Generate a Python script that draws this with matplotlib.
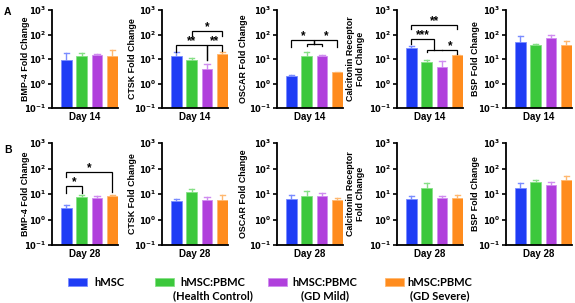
import math
import matplotlib
matplotlib.use("Agg")
import matplotlib.pyplot as plt
from matplotlib.patches import Rectangle
from matplotlib.ticker import FixedLocator, FuncFormatter, NullLocator

plt.rcParams['font.family'] = ['Liberation Sans', 'DejaVu Sans']
plt.rcParams['font.weight'] = 'bold'

# groups and colours
groups = ['hMSC', 'hMSC:PBMC\n(Health Control)', 'hMSC:PBMC\n(GD Mild)', 'hMSC:PBMC\n(GD Severe)']
colors = ['#1f3cf5', '#3cc83c', '#b040dc', '#ff8c1e']
err_colors = ['#7a8cff', '#86e086', '#d08cf0', '#ffb870']

genes = ['BMP-4', 'CTSK', 'OSCAR', 'Calcitonin Receptor', 'BSP']
ylabels = ['BMP-4 Fold Change', 'CTSK Fold Change', 'OSCAR Fold Change',
           'Calcitonin Receptor\nFold Change', 'BSP Fold Change']
days = ['Day 14', 'Day 28']

# mean fold change (bar tops) and mean + error (cap tops)
day14_mean = [
    [9.4, 12.8, 14.5, 12.8],
    [13.5, 8.8, 4.0, 16.7],
    [2.1, 13.5, 13.5, 2.9],
    [28.5, 7.4, 4.6, 14.3],
    [49, 38, 70, 38],
]
day14_top = [
    [16.9, 17.4, 16.0, 23.6],
    [18.9, 11.3, 6.2, 19.5],
    [2.2, 19.5, 14.4, 3.05],
    [35, 9.0, 8.3, 15.0],
    [86, 42, 100, 55],
]
day28_mean = [
    [2.9, 7.9, 7.0, 8.1],
    [5.2, 12.0, 6.0, 5.7],
    [6.4, 8.1, 8.6, 5.8],
    [6.4, 17.6, 7.2, 7.2],
    [17, 29.4, 21.8, 36],
]
day28_top = [
    [3.6, 9.4, 8.5, 9.1],
    [6.6, 16.0, 7.6, 9.4],
    [9.4, 12.7, 10.6, 6.8],
    [8.6, 27.6, 8.6, 9.1],
    [26.8, 36, 29.4, 48.7],
]

# significance brackets: (row, panel, x1, x2, y_line, y_leg1, y_leg2, label)
brackets = [
    (0, 1, 0, 2, 38.5, 19.5, 9.0, '**'),
    (0, 1, 2, 3, 38.5, 9.0, 22, '**'),
    (0, 1, 1, 3, 135, 90, 90, '*'),
    (0, 2, 0, 1.5, 58, 30, 41, '*'),
    (0, 2, 1.5, 3, 58, 41, 30, '*'),
    (0, 2, 1, 2, 41, 33, 33, ''),
    (0, 3, 0, 3, 245, 160, 160, '**'),
    (0, 3, 0, 1.5, 68, 41, 22.5, '***'),
    (0, 3, 1, 2, 22.5, 19, 22.5, ''),
    (0, 3, 2, 3, 22.5, 22.5, 16.5, '*'),
    (1, 0, 0, 1, 20, 10.5, 10.5, '*'),
    (1, 0, 0, 3, 74, 45, 12, '*'),
]

W, H = 575, 303
fig = plt.figure(figsize=(W / 100, H / 100), dpi=100)

lefts = [52, 162, 277, 397, 506]
ylab_off = [-22, -25, -29, -32, -26]  # px from spine to right edge of y label
ax_w = 66
rows = [(10, 98), (143, 102)]  # (top px, height px)


def fmt(v, pos):
    e = int(round(math.log10(v)))
    return r'$\mathbf{10^{%d}}$' % e


axes = {}
for r, (top, h) in enumerate(rows):
    means = day14_mean if r == 0 else day28_mean
    tops = day14_top if r == 0 else day28_top
    for p in range(5):
        ax = fig.add_axes([lefts[p] / W, (H - top - h) / H, ax_w / W, h / H])
        axes[(r, p)] = ax
        x = list(range(4))
        ax.bar(x, means[p], width=0.68, color=colors, edgecolor=err_colors,
               linewidth=0.6, zorder=2)
        for i in range(4):
            ax.plot([i, i], [means[p][i], tops[p][i]], color=err_colors[i], lw=1.0, zorder=1)
            ax.plot([i - 0.18, i + 0.18], [tops[p][i], tops[p][i]], color=err_colors[i], lw=1.0, zorder=1)
        ax.set_yscale('log')
        ax.set_ylim(0.1, 1000)
        ax.set_xlim(-0.93, 3.36)
        ax.yaxis.set_major_locator(FixedLocator([0.1, 1, 10, 100, 1000]))
        ax.yaxis.set_minor_locator(NullLocator())
        ax.yaxis.set_major_formatter(FuncFormatter(fmt))
        ax.set_xticks([])
        ax.spines['top'].set_visible(False)
        ax.spines['right'].set_visible(False)
        ax.spines['left'].set_linewidth(1.3)
        ax.spines['bottom'].set_linewidth(1.3)
        ax.tick_params(axis='y', length=3, width=1.2, labelsize=6, pad=1)
        ax.set_xlabel(days[r], fontsize=7, fontweight='bold', labelpad=3)
        ax.set_ylabel(ylabels[p], fontsize=6.4, fontweight='bold',
                      linespacing=1.1)
        ax.yaxis.set_label_coords(ylab_off[p] / ax_w, 0.5)

for r, p, x1, x2, yl, y1, y2, lab in brackets:
    ax = axes[(r, p)]
    ax.plot([x1, x1, x2, x2], [y1, yl, yl, y2], color='black', lw=0.9, zorder=3,
            solid_joinstyle='miter')
    if lab:
        ax.annotate(lab, ((x1 + x2) / 2, yl), xytext=(0, -1.5),
                    textcoords='offset points', ha='center', va='bottom',
                    fontsize=8.5, fontweight='bold')

fig.text(4 / W, 1 - 15 / H, 'A', fontsize=7.5, fontweight='bold')
fig.text(4 / W, 1 - 153 / H, 'B', fontsize=7.5, fontweight='bold')

# legend drawn below the panels
leg_x = [68, 155, 268, 385]
text_cx = [112, 213, 325, 440]
for i in range(4):
    fig.add_artist(Rectangle((leg_x[i] / W, 1 - 286 / H), 19 / W, 8 / H,
                             transform=fig.transFigure, facecolor=colors[i],
                             edgecolor=err_colors[i], lw=0.6))
    lines = groups[i].split('\n')
    if len(lines) == 1:
        fig.text((leg_x[i] + 26) / W, 1 - 282 / H, lines[0], fontsize=8,
                 family='Lato', fontweight='bold', va='center', ha='left')
    else:
        fig.text(text_cx[i] / W, 1 - 282 / H, lines[0], fontsize=8,
                 family='Lato', fontweight='bold', va='center', ha='center')
        fig.text(text_cx[i] / W, 1 - 296 / H, lines[1], fontsize=8,
                 family='Lato', fontweight='bold', va='center', ha='center')

fig.savefig('out.png', dpi=100)
